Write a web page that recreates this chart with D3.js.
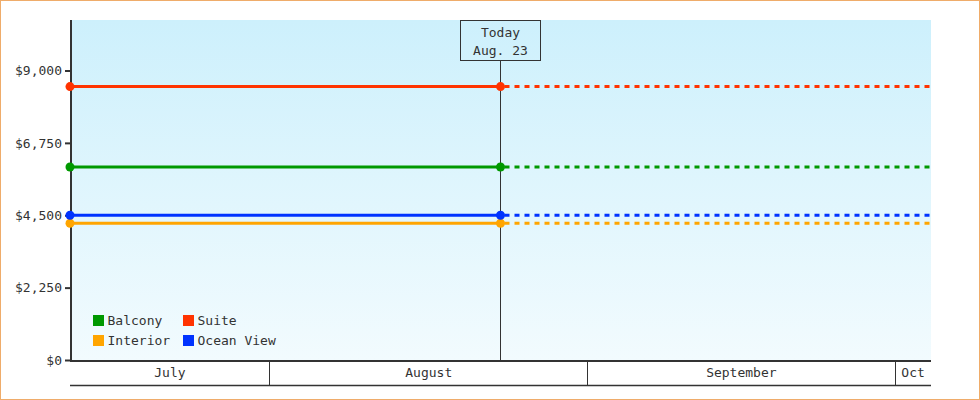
<!DOCTYPE html>
<html>
<head>
<meta charset="utf-8">
<title>Cabin prices</title>
<script src="https://d3js.org/d3.v7.min.js"></script>
<style>
  body { margin: 0; background: #fff; }
  text { font-family: 'DejaVu Sans Mono', monospace; font-size: 13px; fill: #333; }
</style>
</head>
<body>
<svg id="chart"></svg>
<script>
// data
var categories = ["Balcony", "Suite", "Interior", "Ocean View"];
var prices = [6000, 8500, 4250, 4500];
var colors = ["#009900", "#ff3300", "#ffa500", "#0033ff"];
var yTicks = [0, 2250, 4500, 6750, 9000];
var monthLabels = ["July", "August", "September", "Oct"];
var monthStarts = ["2024-07-01", "2024-08-01", "2024-09-01", "2024-10-01"];
var todayLabel = ["Today", "Aug. 23"];
var today = new Date(2024, 7, 23, 12);
var daysEachSide = 42;
var yMax = 10570;

var width = 980, height = 400;
var margin = {top: 20, right: 49, bottom: 40, left: 70};

var svg = d3.select('#chart')
    .attr('width', width)
    .attr('height', height);

var start = d3.timeDay.offset(today, -daysEachSide);
var end = d3.timeDay.offset(today, daysEachSide);

var x = d3.scaleTime()
    .domain([start, end])
    .range([margin.left, width - margin.right]);
var y = d3.scaleLinear()
    .domain([0, yMax])
    .range([height - margin.bottom, margin.top]);

// outer frame
svg.append('rect')
    .attr('x', 0.5).attr('y', 0.5)
    .attr('width', width - 1).attr('height', height - 1)
    .attr('fill', '#fff')
    .attr('stroke', '#efac6a');

var grad = svg.append('defs').append('linearGradient')
    .attr('id', 'bg').attr('x1', 0).attr('y1', 0).attr('x2', 0).attr('y2', 1);
grad.append('stop').attr('offset', '0%').attr('stop-color', '#cdf0fc');
grad.append('stop').attr('offset', '100%').attr('stop-color', '#f2fbfe');

svg.append('rect')
    .attr('x', x.range()[0]).attr('y', y.range()[1])
    .attr('width', x.range()[1] - x.range()[0])
    .attr('height', y.range()[0] - y.range()[1])
    .attr('fill', 'url(#bg)');

// month band axis
var bandTop = y(0), bandBottom = y(0) + 25;
var months = monthStarts.map(function(s, i) {
    var m0 = d3.max([new Date(s + 'T00:00'), start]);
    var m1 = d3.min([d3.timeMonth.offset(new Date(s + 'T00:00'), 1), end]);
    return {label: monthLabels[i], x0: x(m0), x1: x(m1)};
});

svg.selectAll('.divider')
    .data(months.slice(1))
    .enter()
    .append('line')
    .attr('x1', function(d) { return Math.floor(d.x0) + 0.5; })
    .attr('x2', function(d) { return Math.floor(d.x0) + 0.5; })
    .attr('y1', bandTop).attr('y2', bandBottom)
    .attr('stroke', '#333');

svg.selectAll('.month')
    .data(months)
    .enter()
    .append('text')
    .attr('x', function(d) { return (d.x0 + d.x1) / 2; })
    .attr('y', bandTop + 17)
    .attr('text-anchor', 'middle')
    .text(function(d) { return d.label; });

svg.append('line')
    .attr('x1', x.range()[0]).attr('x2', x.range()[1])
    .attr('y1', bandBottom + 0.5).attr('y2', bandBottom + 0.5)
    .attr('stroke', '#333').attr('stroke-width', 1.3);

// y axis
var yAxis = d3.axisLeft(y)
    .tickValues(yTicks)
    .tickSize(5)
    .tickPadding(3)
    .tickFormat(function(d) { return '$' + d3.format(',')(d); });
var ya = svg.append('g')
    .attr('transform', 'translate(' + margin.left + ',0)')
    .call(yAxis);
ya.select('.domain').remove();
ya.selectAll('.tick line').attr('stroke', '#333').attr('stroke-width', 2);
ya.selectAll('.tick text')
    .attr('fill', '#333')
    .style('font-family', "'DejaVu Sans Mono', monospace")
    .style('font-size', '13px');

svg.append('line')
    .attr('x1', margin.left + 1).attr('x2', margin.left + 1)
    .attr('y1', y.range()[1]).attr('y2', y(0) + 1)
    .attr('stroke', '#333').attr('stroke-width', 2);
svg.append('line')
    .attr('x1', margin.left).attr('x2', x.range()[1])
    .attr('y1', y(0) + 1).attr('y2', y(0) + 1)
    .attr('stroke', '#333').attr('stroke-width', 2);

// today marker
var tx = Math.floor(x(today)) + 0.5;
svg.append('line')
    .attr('x1', tx).attr('x2', tx)
    .attr('y1', 60).attr('y2', y(0))
    .attr('stroke', '#333');
svg.append('rect')
    .attr('x', tx - 40).attr('y', 20.5)
    .attr('width', 80).attr('height', 40)
    .attr('fill', 'none')
    .attr('stroke', '#333');
svg.selectAll('.today')
    .data(todayLabel)
    .enter()
    .append('text')
    .attr('x', tx)
    .attr('y', function(d, i) { return 37 + i * 18; })
    .attr('text-anchor', 'middle')
    .text(function(d) { return d; });

// series
var series = categories.map(function(c, i) {
    return {name: c, price: prices[i], color: colors[i]};
});
var drawOrder = [2, 3, 0, 1];

drawOrder.forEach(function(i) {
    var s = series[i];
    svg.append('line')
        .attr('x1', x(today)).attr('x2', x(end))
        .attr('y1', y(s.price)).attr('y2', y(s.price))
        .attr('stroke', s.color).attr('stroke-width', 3)
        .attr('stroke-dasharray', '5,5')
        .attr('stroke-dashoffset', -4);
    svg.append('line')
        .attr('x1', x(start)).attr('x2', x(today))
        .attr('y1', y(s.price)).attr('y2', y(s.price))
        .attr('stroke', s.color).attr('stroke-width', 3);
    svg.selectAll(null)
        .data([start, today])
        .enter()
        .append('circle')
        .attr('cx', function(d) { return x(d); })
        .attr('cy', y(s.price))
        .attr('r', 4.5)
        .attr('fill', s.color);
});

// legend
var legend = svg.selectAll('.legend')
    .data(series)
    .enter()
    .append('g')
    .attr('transform', function(d, i) {
        return 'translate(' + (93 + (i % 2) * 90) + ',' + (315 + Math.floor(i / 2) * 20) + ')';
    });
legend.append('rect')
    .attr('width', 11).attr('height', 11)
    .attr('fill', function(d) { return d.color; });
legend.append('text')
    .attr('x', 14.5).attr('y', 10)
    .text(function(d) { return d.name; });
</script>
</body>
</html>
